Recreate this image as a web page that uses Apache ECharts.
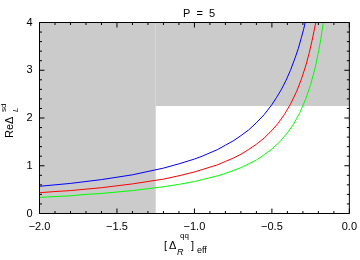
<!DOCTYPE html>
<html><head><meta charset="utf-8">
<script src="https://cdn.jsdelivr.net/npm/echarts@6/dist/echarts.min.js"></script>
<style>html,body{margin:0;padding:0;background:#fff}#c{width:360px;height:260px}</style>
</head><body><div id="c"></div>
<script>
var blueX  = [-2.0, -1.9, -1.8, -1.7, -1.6, -1.5, -1.4, -1.3, -1.2, -1.1, -1.0, -0.95, -0.9, -0.85, -0.8, -0.75, -0.7, -0.65, -0.6, -0.55, -0.5, -0.47, -0.44, -0.41, -0.38, -0.35, -0.33, -0.31, -0.295, -0.285];
var blueY  = [0.57, 0.60, 0.63, 0.67, 0.71, 0.76, 0.81, 0.88, 0.95, 1.04, 1.14, 1.20, 1.27, 1.34, 1.43, 1.52, 1.63, 1.75, 1.90, 2.07, 2.28, 2.43, 2.59, 2.78, 3.00, 3.26, 3.45, 3.68, 3.86, 4.0];
var redX   = [-2.0, -1.9, -1.8, -1.7, -1.6, -1.5, -1.4, -1.3, -1.2, -1.1, -1.0, -0.95, -0.9, -0.85, -0.8, -0.75, -0.7, -0.65, -0.6, -0.55, -0.5, -0.46, -0.42, -0.38, -0.34, -0.31, -0.28, -0.26, -0.24, -0.228, -0.217];
var redY   = [0.435, 0.46, 0.48, 0.51, 0.54, 0.58, 0.62, 0.67, 0.72, 0.79, 0.87, 0.92, 0.97, 1.02, 1.09, 1.16, 1.24, 1.34, 1.45, 1.58, 1.74, 1.89, 2.07, 2.29, 2.56, 2.81, 3.11, 3.35, 3.63, 3.82, 4.0];
var greenX = [-2.0, -1.9, -1.8, -1.7, -1.6, -1.5, -1.4, -1.3, -1.2, -1.1, -1.0, -0.95, -0.9, -0.85, -0.8, -0.75, -0.7, -0.65, -0.6, -0.55, -0.5, -0.45, -0.4, -0.36, -0.32, -0.28, -0.25, -0.22, -0.2, -0.185, -0.175, -0.168];
var greenY = [0.337, 0.355, 0.37, 0.40, 0.42, 0.45, 0.48, 0.52, 0.56, 0.61, 0.67, 0.71, 0.75, 0.79, 0.84, 0.90, 0.96, 1.04, 1.12, 1.23, 1.35, 1.50, 1.69, 1.87, 2.11, 2.41, 2.70, 3.06, 3.37, 3.64, 3.85, 4.0];
// shaded (excluded) regions: [x0, y0, x1, y1]
var shadeRegions = [[-2.0, 0, -1.25, 4], [-1.25, 2.25, 0.0, 4]];
var xTicks = [-2.0, -1.5, -1.0, -0.5, 0.0];
var yTicks = [0, 1, 2, 3, 4];
var minorPerMajor = 5;
var titleText = 'P  =  5';

function pairs(xs, ys){ return xs.map(function(x,i){ return [x, ys[i]]; }); }
var FONT = '"Liberation Sans", sans-serif';
var G = {left: 39.5, right: 10.5, top: 22.5, bottom: 46.5};
var plotW = 360 - G.left - G.right, plotH = 260 - G.top - G.bottom;
var chart = echarts.init(document.getElementById('c'));

function labelAxis(pos, ticks, fmt, margin){
  return {type: 'value', position: pos, min: ticks[0], max: ticks[ticks.length-1], interval: ticks[1]-ticks[0],
    axisLine: {show: false}, axisTick: {show: false}, splitLine: {show: false},
    axisLabel: {show: true, color: '#000', fontSize: 11, fontFamily: FONT, margin: margin, formatter: fmt}};
}
var xFmt = function(v){ return (v < 0 ? '\u2212' : '') + Math.abs(v).toFixed(1); };
var yFmt = function(v){ return String(v); };

var areas = shadeRegions.map(function(r){ return [{coord: [r[0], r[1]]}, {coord: [r[2], r[3]]}]; });

function lineSeries(name, xs, ys, color){
  return {name: name, type: 'line', data: pairs(xs, ys), showSymbol: false, symbol: 'none',
    smooth: false, clip: true, z: 5, lineStyle: {color: color, width: 1}};
}

// frame and tick marks, as polylines in data space derived from the tick arrays
var X0 = xTicks[0], X1 = xTicks[xTicks.length-1], Y0 = yTicks[0], Y1 = yTicks[yTicks.length-1];
var dyPerPx = (Y1 - Y0) / plotH, dxPerPx = (X1 - X0) / plotW;
function minorList(ticks){
  var out = [], step = (ticks[1]-ticks[0]) / minorPerMajor;
  for (var i = 0; i < ticks.length-1; i++) for (var k = 1; k < minorPerMajor; k++) out.push(ticks[i] + k*step);
  return out;
}
var GAP = ['-', '-'];
var tickData = [];
function xTick(v, len){
  var d = len * dyPerPx;
  tickData.push([v, Y0], [v, Y0 + d], GAP, [v, Y1], [v, Y1 - d], GAP);
}
function yTick(v, len){
  var d = len * dxPerPx;
  tickData.push([X0, v], [X0 + d, v], GAP, [X1, v], [X1 - d, v], GAP);
}
xTicks.forEach(function(v){ xTick(v, 5); });
minorList(xTicks).forEach(function(v){ xTick(v, 2.5); });
yTicks.forEach(function(v){ yTick(v, 5); });
minorList(yTicks).forEach(function(v){ yTick(v, 2.5); });
var frameData = [[X0, Y0], [X1, Y0], [X1, Y1], [X0, Y1], [X0, Y0]];

chart.setOption({
  animation: false,
  backgroundColor: '#fff',
  title: {text: titleText, left: 194, top: 3, textAlign: 'center',
    textStyle: {fontSize: 11, fontWeight: 'normal', color: '#000', fontFamily: FONT}},
  grid: G,
  xAxis: [labelAxis('bottom', xTicks, xFmt, 8)],
  yAxis: [labelAxis('left', yTicks, yFmt, 7)],
  series: [
    {type: 'line', data: [], z: 1, markArea: {silent: true, itemStyle: {color: '#cbcbcb'}, data: areas}},
    lineSeries('blue', blueX, blueY, '#0000ff'),
    lineSeries('red', redX, redY, '#ff0000'),
    lineSeries('green', greenX, greenY, '#00ff00'),
    {name: 'ticks', type: 'line', data: tickData, showSymbol: false, symbol: 'none', connectNulls: false,
      clip: false, silent: true, z: 10, lineStyle: {color: '#000', width: 1}},
    {name: 'frame', type: 'line', data: frameData, showSymbol: false, symbol: 'none',
      clip: false, silent: true, z: 10, lineStyle: {color: '#000', width: 1}}
  ],
  graphic: [
    {type: 'group', x: 0, y: 0, children: [
      {type: 'text', x: 164, y: 246, style: {text: '[', font: '11px ' + FONT, fill: '#000', textVerticalAlign: 'middle'}},
      {type: 'text', x: 169, y: 246, style: {text: '\u0394', font: '11px ' + FONT, fill: '#000', textVerticalAlign: 'middle'}},
      {type: 'text', x: 180, y: 236, style: {text: 'qq', font: '8px ' + FONT, fill: '#000', textVerticalAlign: 'middle'}},
      {type: 'text', x: 177, y: 252, style: {text: 'R', font: 'italic 9px ' + FONT, fill: '#000', textVerticalAlign: 'middle'}},
      {type: 'text', x: 191, y: 246, style: {text: ']', font: '11px ' + FONT, fill: '#000', textVerticalAlign: 'middle'}},
      {type: 'text', x: 197, y: 251, style: {text: 'eff', font: '9px ' + FONT, fill: '#000', textVerticalAlign: 'middle'}}
    ]},
    {type: 'group', x: 10, y: 138, rotation: Math.PI/2, children: [
      {type: 'text', x: 0, y: 0, style: {text: 'Re\u0394', font: '11px ' + FONT, fill: '#000', textVerticalAlign: 'middle'}},
      {type: 'text', x: 26, y: -6, style: {text: 'sd', font: '8px ' + FONT, fill: '#000', textVerticalAlign: 'middle'}},
      {type: 'text', x: 26, y: 6, style: {text: 'L', font: 'italic 8px ' + FONT, fill: '#000', textVerticalAlign: 'middle'}}
    ]}
  ]
});
</script></body></html>
